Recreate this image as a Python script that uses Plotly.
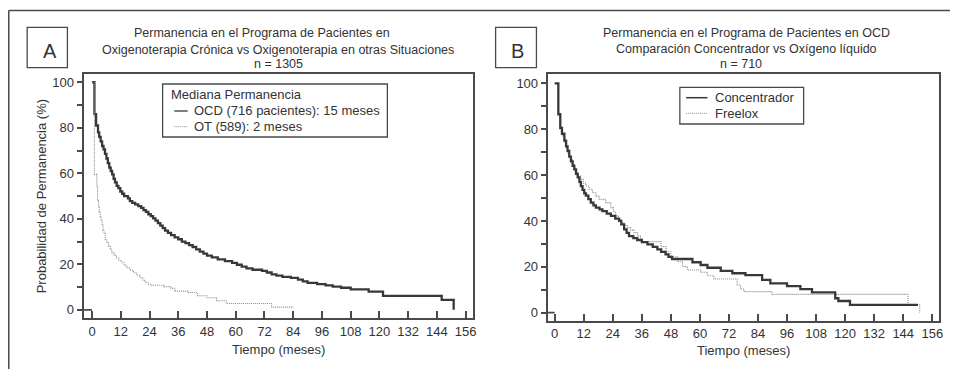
import plotly.graph_objects as go

W, H = 954, 369

# ---------------- data ----------------
# Panel A
ocd_t = [0, 1.0, 1.7, 2.5, 3.0, 3.6, 4.2, 4.8, 5.4, 6.0, 6.6, 7.2, 7.8, 8.4, 9.0, 9.6,
         10.3, 11.0, 11.8, 12.6, 13.4, 15.0, 15.8, 16.8, 18.0, 19.3, 20.5, 21.5, 22.5,
         23.5, 24.5, 25.5, 26.5, 27.5, 28.5, 29.5, 30.5, 31.7, 33.0, 34.5, 36.0, 37.5,
         39.0, 40.5, 42.0, 43.5, 45.0, 46.5, 48.0, 50.0, 52.5, 55.5, 58.5, 60.5, 62.5,
         64.5, 67.0, 71.0, 73.0, 75.0, 77.0, 79.5, 83.0, 86.0, 88.0, 90.0, 94.0, 97.5,
         100.5, 104.0, 108.0, 115.5, 121.5, 146.0, 151.0]
ocd_s = [100, 86, 81, 78, 76, 74, 72, 70.5, 68.5, 66.5, 64.5, 62.5, 61, 59.5, 57.5, 56,
         54.5, 53.5, 52, 51, 50, 49, 47.8, 47, 46.3, 45.6, 44.8, 43.8, 43,
         42, 41.2, 40.2, 39.2, 38.1, 37, 35.9, 34.8, 33.8, 32.8, 31.8, 31, 30,
         29.3, 28.4, 27.6, 26.6, 25.6, 24.7, 23.8, 23, 22.2, 21.4, 20.6, 19.8, 19,
         18.2, 17.6, 17.1, 16.4, 15.6, 15, 14.5, 14, 13.3, 12.5, 11.8, 11.3, 10.7,
         10.2, 9.7, 9.0, 8.0, 6.1, 4.4, 0]

ot_t = [0, 1.0, 2.0, 2.3, 2.7, 3.0, 3.4, 3.8, 4.2, 4.6, 5.0, 5.5, 6.2, 6.9, 7.6, 8.3,
        9.2, 10.2, 11.2, 12.3, 13.4, 14.5, 15.8, 17.2, 18.6, 20.0, 21.2, 22.2, 23.5,
        25.0, 30.0, 33.0, 34.5, 40.0, 44.0, 48.0, 52.0, 56.0, 75.0, 84.2]
ot_s = [100, 59.5, 54, 48, 45, 43, 41, 39.5, 37.5, 35, 33.5, 31, 29.5, 28, 26.5, 25,
        24, 22.8, 21.7, 20.7, 19.6, 18.5, 17.4, 16.3, 15.2, 14.1, 13, 11.9, 11.2,
        10.8, 10.2, 9.5, 8.2, 7.6, 6.2, 5.3, 4.0, 2.8, 1.2, 1.2]

# Panel B
con_t = [0, 1.5, 2.3, 3.0, 4.0, 4.7, 5.3, 6.0, 6.7, 7.4, 8.1, 8.8, 9.5, 10.2, 10.8,
         11.5, 12.2, 12.9, 13.9, 14.9, 16.0, 17.0, 18.5, 19.7, 21.5, 23.2, 25.0, 26.6,
         27.5, 28.7, 29.7, 30.7, 32.5, 34.1, 36.0, 38.3, 40.5, 42.4, 44.0, 45.8, 47.0,
         48.5, 56.9, 60.3, 63.1, 68.6, 73.4, 78.8, 85.7, 89.1, 96.0, 101.5, 106.3,
         115.9, 117.2, 122.0, 150.1]
con_s = [100, 86.5, 80.5, 78, 75, 72.5, 70.5, 68, 66, 64, 62.5, 60.5, 59, 57, 55.2,
         53.5, 52, 51, 49.5, 48, 46.8, 45.8, 45, 44.3, 43.2, 42.2, 41, 40,
         38.5, 36.3, 34.8, 33.4, 32.5, 31.7, 30.8, 29.8, 28.7, 27.6, 26.5, 25.4, 24.3,
         23.4, 22.0, 20.8, 19.6, 18.2, 17.2, 16.4, 14.3, 12.8, 11.6, 10.3, 8.9,
         6.3, 5.1, 3.4, 3.4]

fre_t = [0, 1.5, 2.2, 3.0, 3.3, 4.0, 4.7, 5.4, 6.0, 6.7, 7.4, 8.1, 8.8, 9.5, 10.8,
         11.8, 12.9, 14.2, 15.6, 17.0, 18.4, 21.1, 23.2, 24.2, 25.2, 26.2, 27.3, 28.6,
         30.0, 31.4, 32.8, 34.2, 35.5, 36.3, 43.9, 46.0, 48.0, 50.7, 52.8, 54.8, 60.3,
         63.1, 65.8, 75.4, 76.8, 78.2, 89.8, 146.0, 150.8]
fre_s = [100, 86.5, 81, 78, 77, 74.5, 72, 69.5, 68, 67, 65, 62.5, 61, 59.6, 58.1,
         56.5, 55.2, 53.8, 52.3, 50.8, 49.4, 48.0, 45.8, 44, 42.2, 40.8, 39.2, 38,
         37.1, 36, 34.9, 33.4, 32.0, 31.0, 28.8, 26.6, 24.4, 22.2, 20.1, 18.6, 17.6,
         16.1, 14.7, 12.1, 10.3, 9.2, 8.0, 3.4, 0]

x_ticks = list(range(0, 157, 12))
y_ticks = [0, 20, 40, 60, 80, 100]

titleA = ["Permanencia en el Programa de Pacientes en",
          "Oxigenoterapia Crónica vs Oxigenoterapia en otras Situaciones",
          "n = 1305"]
titleB = ["Permanencia en el Programa de Pacientes en OCD",
          "Comparación Concentrador vs Oxígeno líquido",
          "n = 710"]
legA_title = "Mediana Permanencia"
legA_items = ["OCD (716 pacientes): 15 meses", "OT (589): 2 meses"]
legB_items = ["Concentrador", "Freelox"]
xtitle = "Tiempo (meses)"
ytitle = "Probabilidad de Permanencia (%)"

# ---------------- styling ----------------
FONT = "Liberation Sans, Arial, sans-serif"
TXT = "#333333"
FRAME = "#4a4a4a"
DARK = dict(color="#383838", width=2.3)
DOT = dict(color="#8a8a8a", width=1.1, dash="1px,1px")


def px(x):
    return x / W


def py(y):
    return 1 - y / H


fig = go.Figure()
fig.add_trace(go.Scatter(x=ocd_t, y=ocd_s, mode="lines", line=DARK, line_shape="hv",
                         xaxis="x", yaxis="y", showlegend=False))
fig.add_trace(go.Scatter(x=ot_t, y=ot_s, mode="lines", line=DOT, line_shape="hv",
                         xaxis="x", yaxis="y", showlegend=False))
fig.add_trace(go.Scatter(x=fre_t, y=fre_s, mode="lines", line=DOT, line_shape="hv",
                         xaxis="x2", yaxis="y2", showlegend=False))
fig.add_trace(go.Scatter(x=con_t, y=con_s, mode="lines", line=DARK, line_shape="hv",
                         xaxis="x2", yaxis="y2", showlegend=False))

xr_A = [-3.5, 159.2]
yr_A = [-3.6, 103.5]
xr_B = [-2.9, 158.8]
yr_B = [-3.4, 104.05]

common_x = dict(tickmode="array", tickvals=x_ticks, ticks="inside", ticklen=7, tickwidth=1.8,
                tickcolor=FRAME, showline=True, linewidth=2, linecolor=FRAME, mirror=True,
                showgrid=False, zeroline=False, tickfont=dict(size=13, color=TXT, family=FONT),
                fixedrange=True)
common_y = dict(tickmode="array", tickvals=y_ticks, ticks="outside", ticklen=5, tickwidth=1.8,
                tickcolor=FRAME, showline=True, linewidth=2, linecolor=FRAME, mirror=True,
                showgrid=False, zeroline=False, tickfont=dict(size=13, color=TXT, family=FONT),
                minor=dict(tickvals=[10, 30, 50, 70, 90], ticks="outside", ticklen=5,
                           tickwidth=1.5, tickcolor=FRAME),
                fixedrange=True)

fig.update_layout(
    width=W, height=H, margin=dict(l=0, r=0, t=0, b=0),
    paper_bgcolor="white", plot_bgcolor="white",
    font=dict(family=FONT, color=TXT, size=13),
    xaxis=dict(domain=[px(84), px(475.3)], range=xr_A, anchor="y", **common_x),
    yaxis=dict(domain=[py(318), py(74.3)], range=yr_A, anchor="x", **common_y),
    xaxis2=dict(domain=[px(550), px(943)], range=xr_B, anchor="y2", **common_x),
    yaxis2=dict(domain=[py(320.5), py(74)], range=yr_B, anchor="x2", **common_y),
)

shapes = []
ann = []

# outer frame (top and left)
shapes.append(dict(type="line", xref="paper", yref="paper", x0=px(8.8), x1=1.0,
                   y0=py(10.5), y1=py(10.5), line=dict(color=FRAME, width=1.5)))
shapes.append(dict(type="line", xref="paper", yref="paper", x0=px(8.8), x1=px(8.8),
                   y0=py(10.5), y1=0, line=dict(color=FRAME, width=1.5)))

# panel letter boxes
for (x0, x1, lx, letter) in [(27.3, 67.7, 50.3, "A"), (497.7, 538.7, 520, "B")]:
    shapes.append(dict(type="rect", xref="paper", yref="paper", x0=px(x0), x1=px(x1),
                       y0=py(67.7), y1=py(27.3), line=dict(color=FRAME, width=1.3)))
    ann.append(dict(text=letter, xref="paper", yref="paper", x=px(lx), y=py(50.5),
                    xanchor="center", yanchor="middle", showarrow=False,
                    font=dict(size=20, color=TXT, family=FONT)))

# titles
for cx, lines, ys in [((263, 279.5, 279.5), titleA, (33, 49.5, 64)),
                      ((749.5, 749.5, 744), titleB, (33, 48.5, 63.5))]:
    for c, t, yy in zip(cx, lines, ys):
        ann.append(dict(text=t, xref="paper", yref="paper", x=px(c), y=py(yy),
                        xanchor="center", yanchor="middle", showarrow=False,
                        font=dict(size=12.5, color=TXT, family=FONT)))

# axis titles
ann.append(dict(text=xtitle, xref="paper", yref="paper", x=px(280), y=py(349),
                xanchor="center", yanchor="middle", showarrow=False,
                font=dict(size=13, color=TXT, family=FONT)))
ann.append(dict(text=xtitle, xref="paper", yref="paper", x=px(747), y=py(350.5),
                xanchor="center", yanchor="middle", showarrow=False,
                font=dict(size=13, color=TXT, family=FONT)))
ann.append(dict(text=ytitle, xref="paper", yref="paper", x=px(42), y=py(196.5),
                xanchor="center", yanchor="middle", showarrow=False, textangle=-90,
                font=dict(size=13, color=TXT, family=FONT)))

# zero-level bracket at the origin of each panel
shapes.append(dict(type="line", xref="x", yref="y", x0=xr_A[0], x1=0, y0=0, y1=0,
                   line=dict(color=FRAME, width=1.8)))
shapes.append(dict(type="line", xref="x2", yref="y2", x0=xr_B[0], x1=0, y0=0, y1=0,
                   line=dict(color=FRAME, width=1.8)))

# legend A
shapes.append(dict(type="rect", xref="paper", yref="paper", x0=px(163.3), x1=px(389),
                   y0=py(137), y1=py(84), line=dict(color=FRAME, width=1.3),
                   fillcolor="white", layer="above"))
ann.append(dict(text=legA_title, xref="paper", yref="paper", x=px(170), y=py(95),
                xanchor="left", yanchor="middle", showarrow=False,
                font=dict(size=13, color=TXT, family=FONT)))
for i, (txt, st) in enumerate(zip(legA_items, [DARK, DOT])):
    yy = [111, 126.7][i]
    lst = dict(st)
    lst["width"] = 1.3 if i == 0 else 1.0
    shapes.append(dict(type="line", xref="paper", yref="paper", x0=px(175), x1=px(188.5),
                       y0=py(yy), y1=py(yy), line=lst, layer="above"))
    ann.append(dict(text=txt, xref="paper", yref="paper", x=px(192.5), y=py(yy),
                    xanchor="left", yanchor="middle", showarrow=False,
                    font=dict(size=13, color=TXT, family=FONT)))

# legend B
shapes.append(dict(type="rect", xref="paper", yref="paper", x0=px(682.7), x1=px(807),
                   y0=py(124), y1=py(87.3), line=dict(color=FRAME, width=1.3),
                   fillcolor="white", layer="above"))
for i, (txt, st) in enumerate(zip(legB_items, [DARK, DOT])):
    yy = [97.7, 113.3][i]
    lst = dict(st)
    lst["width"] = 1.5 if i == 0 else 1.0
    shapes.append(dict(type="line", xref="paper", yref="paper", x0=px(689), x1=px(710.5),
                       y0=py(yy), y1=py(yy), line=lst, layer="above"))
    ann.append(dict(text=txt, xref="paper", yref="paper", x=px(716.5), y=py(yy),
                    xanchor="left", yanchor="middle", showarrow=False,
                    font=dict(size=13, color=TXT, family=FONT)))

fig.update_layout(shapes=shapes, annotations=ann)
fig.write_html("out.html", config={"displayModeBar": False})
